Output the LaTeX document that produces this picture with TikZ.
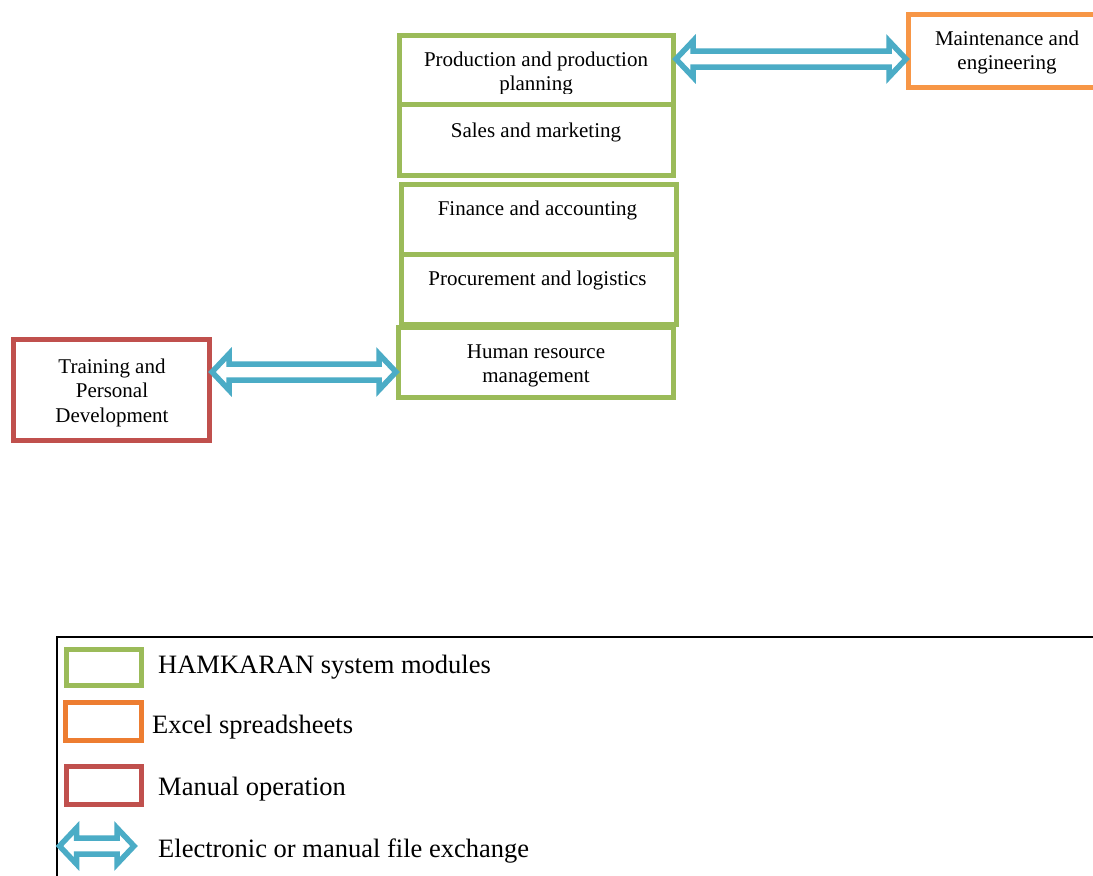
\documentclass[tikz,border=0pt]{standalone}
\usepackage{fontspec}
\setmainfont{Liberation Serif}
\usetikzlibrary{calc}
\definecolor{hgreen}{HTML}{9BBB59}
\definecolor{horange}{HTML}{F79646}
\definecolor{lorange}{HTML}{ED7D31}
\definecolor{hred}{HTML}{C0504D}
\definecolor{hblue}{HTML}{4BACC6}
\newcommand\mytxt[1]{\parbox[t]{300pt}{\centering #1}}
\newcommand\xarrow[2]{%
  \draw[xarr] (#1) -- ($(#1)+(17,-18)$) -- ($(#1)+(17,-8)$) -- ($(#2)+(-17,-8)$)
    -- ($(#2)+(-17,-18)$) -- (#2) -- ($(#2)+(-17,18)$) -- ($(#2)+(-17,8)$)
    -- ($(#1)+(17,8)$) -- ($(#1)+(17,18)$) -- cycle;}
\begin{document}
\begin{tikzpicture}[x=1pt,y=-1pt,
  modbox/.style={draw=hgreen, line width=5pt, fill=white, inner sep=0pt},
  boxlbl/.style={anchor=base, inner sep=0pt, font=\fontsize{21}{24.5}\selectfont},
  legtxt/.style={anchor=base west, inner sep=0pt, font=\fontsize{26.5}{30}\selectfont},
  xarr/.style={draw=hblue, line width=5.5pt, fill=white, line join=miter}]
\clip (0,0) rectangle (1093,876);
\fill[white] (0,0) rectangle (1093,876);
% module boxes
\node[modbox, minimum width=274pt, minimum height=69pt] (prod) at (536.5,70) {};
\node[modbox, minimum width=274pt, minimum height=71pt] (sales) at (536.5,140) {};
\node[modbox, minimum width=275pt, minimum height=69.5pt] (fin) at (539,219.25) {};
\node[modbox, minimum width=275pt, minimum height=70.5pt] (proc) at (539,289.25) {};
\node[modbox, minimum width=275pt, minimum height=70pt] (hr) at (536,362.5) {};
\node[draw=horange, line width=5pt, fill=white, inner sep=0pt,
      minimum width=201.5pt, minimum height=73pt] (maint) at (1009.25,51) {};
\node[draw=hred, line width=5pt, fill=white, inner sep=0pt,
      minimum width=196pt, minimum height=101pt] (train) at (111.5,390) {};
% labels
\begin{scope}
\clip (390,0) rectangle (690,93);
\node[boxlbl] (tprod) at (536,66) {\mytxt{Production and production\\planning}};
\end{scope}
\node[boxlbl] (tsales) at (536,137) {\mytxt{Sales and marketing}};
\node[boxlbl] (tfin) at (537.5,215) {\mytxt{Finance and accounting}};
\node[boxlbl] (tproc) at (537.5,285) {\mytxt{Procurement and logistics}};
\node[boxlbl] (thr) at (536,358) {\mytxt{Human resource\\management}};
\node[boxlbl] (tmaint) at (1007,45) {\mytxt{Maintenance and\\engineering}};
\node[boxlbl] (ttrain) at (112,373) {\mytxt{Training and\\Personal\\Development}};
% exchange arrows
\coordinate (a1) at ($(prod.east)+(0,-11)$);
\coordinate (a2) at (maint.west |- a1);
\xarrow{a1}{a2}
\coordinate (b2) at ($(hr.west)+(0,9.5)$);
\coordinate (b1) at (train.east |- b2);
\xarrow{b1}{b2}
% legend
\draw[line width=1.2pt] (57,637) rectangle (1130,900);
\node[draw=hgreen, line width=5pt, inner sep=0pt, minimum width=75pt, minimum height=36pt] (lg) at (104,667.5) {};
\node[draw=lorange, line width=5pt, inner sep=0pt, minimum width=76pt, minimum height=38pt] (lo) at (103.5,721.5) {};
\node[draw=hred, line width=5pt, inner sep=0pt, minimum width=75pt, minimum height=38pt] (lr) at (104,785.5) {};
\coordinate (l1) at (59.5,846);
\coordinate (l2) at (134,846);
\xarrow{l1}{l2}
\node[legtxt] (tg) at (158,673) {HAMKARAN system modules};
\node[legtxt] (to) at (152,733) {Excel spreadsheets};
\node[legtxt] (tr) at (158,795) {Manual operation};
\node[legtxt] (tb) at (158,857) {Electronic or manual file exchange};
\end{tikzpicture}
\end{document}
